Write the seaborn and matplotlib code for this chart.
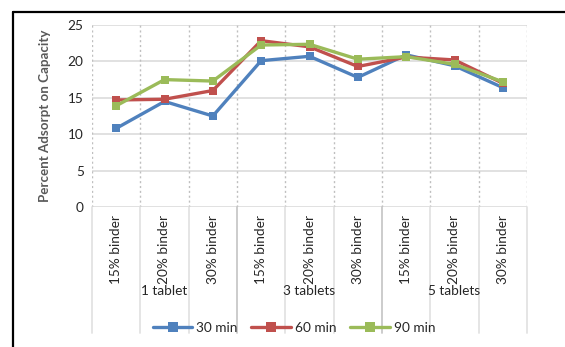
import matplotlib
matplotlib.use("Agg")
import matplotlib.pyplot as plt
from matplotlib.lines import Line2D
import matplotlib.transforms as mtransforms
import numpy as np
import pandas as pd
import seaborn as sns

# Data: percent of adsorption capacity by binder level and tablet count
groups = ["1 tablet", "3 tablets", "5 tablets"]
binders = ["15% binder", "20% binder", "30% binder"]
times = ["30 min", "60 min", "90 min"]
min30 = [10.8, 14.5, 12.5, 20.1, 20.7, 17.8, 20.9, 19.4, 16.4]
min60 = [14.7, 14.8, 16.0, 22.85, 22.0, 19.3, 20.6, 20.2, 17.0]
min90 = [13.9, 17.5, 17.3, 22.25, 22.35, 20.3, 20.65, 19.6, 17.2]
yticks = [0, 5, 10, 15, 20, 25]

colors = ["#4F81BD", "#C0504D", "#9BBB59"]

categories = [b for g in groups for b in binders]
pos = np.arange(len(categories))
df = pd.DataFrame({
    "pos": np.tile(pos, 3),
    "value": min30 + min60 + min90,
    "time": np.repeat(times, len(categories)),
})

sns.set_theme(style="white")
plt.rcParams["font.family"] = ["Lato", "DejaVu Sans"]

W, H = 565, 347
fig = plt.figure(figsize=(W / 100, H / 100), dpi=100)
fig.patch.set_facecolor("white")

x0, x1, ytop, ybot = 92, 527, 25, 207
ax = fig.add_axes([x0 / W, 1 - ybot / H, (x1 - x0) / W, (ybot - ytop) / H])

sns.lineplot(data=df, x="pos", y="value", hue="time", palette=colors,
             marker="s", markersize=5.5, markeredgewidth=0, linewidth=2.4,
             ax=ax, legend=False, sort=False)

ax.set_xlim(-0.5, len(categories) - 0.5)
ax.set_ylim(0, 25)
ax.set_yticks(yticks)
ax.set_yticklabels([str(t) for t in yticks], fontsize=9.8, color="#262626")

# horizontal gridlines
for t in yticks:
    ax.axhline(t, color="#D9D9D9", lw=1.1, zorder=0)
# dotted vertical gridlines at category boundaries
for b in np.arange(-0.5, len(categories), 1.0):
    ax.axvline(b, color="#BFBFBF", lw=1.0, ls=(0, (1.5, 2)), zorder=0)

for s in ax.spines.values():
    s.set_visible(False)

ax.set_xticks(pos)
ax.set_xticklabels(categories, rotation=90, fontsize=9.8, color="#262626",
                   va="top", ha="center")
ax.tick_params(axis="x", direction="in", length=3, color="#D0D0D0", pad=6)
ax.tick_params(axis="y", length=0, pad=6)
ax.set_xlabel("")
ax.set_ylabel("Percent Adsorpt on Capacity", fontsize=9.6, fontweight="bold",
              color="#595959")
ax.yaxis.set_label_coords((51 - x0) / (x1 - x0), 0.5)

# separators beneath the axis
trans = mtransforms.blended_transform_factory(ax.transData, ax.transAxes)
ylow = (ybot - 333) / (ybot - ytop)
for i, b in enumerate(np.arange(-0.5, len(categories), 1.0)):
    is_group = i % len(binders) == 0 and 0 < i < len(categories)
    ax.plot([b, b], [0, ylow], transform=trans, clip_on=False,
            color="#C8C8C8" if is_group else "#E3E3E3", lw=1.3)

# group labels
ygrp = (ybot - 291) / (ybot - ytop)
for gi, g in enumerate(groups):
    ax.text(gi * len(binders) + 1, ygrp, g, transform=trans, ha="center",
            va="center", fontsize=9.8, color="#262626")

# legend
handles = [Line2D([0], [0], color=c, lw=2.4, marker="s", markersize=7.5,
                  markeredgewidth=0) for c in colors]
fig.legend(handles, times, loc="center", bbox_to_anchor=(294 / W, 1 - 328 / H),
           ncol=3, frameon=False, fontsize=9.8, handlelength=2.9,
           handletextpad=0.3, columnspacing=1.0, labelcolor="#262626")

# outer frame
fig.add_artist(Line2D([13 / W, 13 / W], [0, 1 - 12 / H], color="black", lw=1.6,
                      transform=fig.transFigure))
fig.add_artist(Line2D([13 / W, 1], [1 - 12 / H, 1 - 12 / H], color="black",
                      lw=1.6, transform=fig.transFigure))

fig.savefig("out.png", dpi=100, facecolor="white")
